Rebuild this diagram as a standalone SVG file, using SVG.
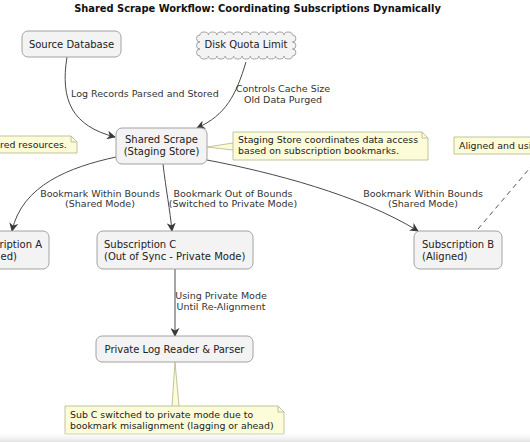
<svg xmlns="http://www.w3.org/2000/svg" width="530" height="442" viewBox="0 0 530 442">
<style>
text{font-family:"DejaVu Sans","Liberation Sans",sans-serif;fill:#222;font-size:10px}
.title{font-weight:bold;font-size:9.9px;fill:#111}
.node{fill:#F3F3F3;stroke:#A2A2A2;stroke-width:1}
.note{fill:#FCFCD8;stroke:#B4B48A;stroke-width:0.8}
.fold{fill:none;stroke:#B4B48A;stroke-width:0.8}
.edge{fill:none;stroke:#4A4A4A;stroke-width:1}
.dash{fill:none;stroke:#555;stroke-width:1;stroke-dasharray:5,4}
.lbl{font-size:9.5px;fill:#333}
.nt{font-size:9.4px;fill:#222}
</style>
<defs>
<marker id="arr" viewBox="0 0 10 10" refX="9" refY="5" markerWidth="9" markerHeight="9" orient="auto" markerUnits="userSpaceOnUse">
<path d="M0,0 L10,5 L0,10 L3,5 Z" fill="#3A3A3A"/>
</marker>
<linearGradient id="shade" x1="0" y1="0" x2="0" y2="1">
<stop offset="0" stop-color="#FFFFFF" stop-opacity="0"/>
<stop offset="1" stop-color="#E2E2E2" stop-opacity="1"/>
</linearGradient>
</defs>
<rect width="530" height="442" fill="#FFFFFF"/>
<text class="title" x="257.5" y="12" text-anchor="middle">Shared Scrape Workflow: Coordinating Subscriptions Dynamically</text>

<g id="connectors">
<path class="edge" d="M67,57 C60,100 72,126 115,137" marker-end="url(#arr)"/>
<path class="edge" d="M246,62 C236,95 226,115 197,128" marker-end="url(#arr)"/>
<path class="edge" d="M116,157 C70,167 22,185 12,231" marker-end="url(#arr)"/>
<path class="edge" d="M163,164 C166,190 170,210 172,231" marker-end="url(#arr)"/>
<path class="edge" d="M207,160 C270,172 360,195 418,231" marker-end="url(#arr)"/>
<path class="edge" d="M175,269 L175,336" marker-end="url(#arr)"/>
<path class="dash" d="M478,229 L535,162"/>
<text class="lbl" x="71" y="97">Log Records Parsed and Stored</text>
<text class="lbl" x="283" y="92" text-anchor="middle">Controls Cache Size</text>
<text class="lbl" x="283" y="103" text-anchor="middle">Old Data Purged</text>
<text class="lbl" x="100" y="197" text-anchor="middle">Bookmark Within Bounds</text>
<text class="lbl" x="100" y="207" text-anchor="middle">(Shared Mode)</text>
<text class="lbl" x="233" y="197" text-anchor="middle">Bookmark Out of Bounds</text>
<text class="lbl" x="233" y="207" text-anchor="middle">(Switched to Private Mode)</text>
<text class="lbl" x="423" y="197" text-anchor="middle">Bookmark Within Bounds</text>
<text class="lbl" x="423" y="207" text-anchor="middle">(Shared Mode)</text>
<text class="lbl" x="221" y="299" text-anchor="middle">Using Private Mode</text>
<text class="lbl" x="221" y="310" text-anchor="middle">Until Re-Alignment</text>
</g>

<g id="source-database">
<rect class="node" x="22" y="31" width="99" height="26" rx="6"/>
<text x="71.5" y="47.5" text-anchor="middle">Source Database</text>
</g>

<g id="disk-quota-limit">
<path class="node" d="M200,35 a4.2,3 0 0 1 8.4,0 a4.2,3 0 0 1 8.4,0 a4.2,3 0 0 1 8.4,0 a4.2,3 0 0 1 8.4,0 a4.2,3 0 0 1 8.4,0 a4.2,3 0 0 1 8.4,0 a4.2,3 0 0 1 8.4,0 a4.2,3 0 0 1 8.4,0 a4.2,3 0 0 1 8.4,0 a4.2,3 0 0 1 8.4,0 a4.2,3 0 0 1 8.4,0 a3.5,3.5 0 0 1 0,7 a3.5,3.5 0 0 1 0,7 a3.5,3.5 0 0 1 0,7 a4.2,3 0 0 1 -8.4,0 a4.2,3 0 0 1 -8.4,0 a4.2,3 0 0 1 -8.4,0 a4.2,3 0 0 1 -8.4,0 a4.2,3 0 0 1 -8.4,0 a4.2,3 0 0 1 -8.4,0 a4.2,3 0 0 1 -8.4,0 a4.2,3 0 0 1 -8.4,0 a4.2,3 0 0 1 -8.4,0 a4.2,3 0 0 1 -8.4,0 a4.2,3 0 0 1 -8.4,0 a3.5,3.5 0 0 1 0,-7 a3.5,3.5 0 0 1 0,-7 a3.5,3.5 0 0 1 0,-7 Z"/>
<text x="246" y="47.5" text-anchor="middle">Disk Quota Limit</text>
</g>

<g id="shared-scrape">
<rect class="node" x="116" y="128" width="91" height="36" rx="6"/>
<text x="161.5" y="143" text-anchor="middle">Shared Scrape</text>
<text x="161.5" y="155" text-anchor="middle">(Staging Store)</text>
</g>

<g id="note-staging">
<polygon class="note" points="207,147 233,143 233,150" style="stroke:none"/>
<path class="fold" d="M207,147 L233,143 M207,147 L233,150"/>
<path class="note" d="M233,132 L422,132 L428,138 L428,160 L233,160 Z"/>
<path class="fold" d="M422,132 L422,138 L428,138"/>
<text class="nt" x="238" y="143">Staging Store coordinates data access</text>
<text class="nt" x="238" y="154">based on subscription bookmarks.</text>
</g>

<g id="note-shared-resources">
<path class="note" d="M-10,136 L71,136 L77,142 L77,153 L-10,153 Z"/>
<path class="fold" d="M71,136 L71,142 L77,142"/>
<text class="nt" x="0" y="148">red resources.</text>
</g>

<g id="note-aligned">
<path class="note" d="M454,137 L540,137 L540,154 L454,154 Z"/>
<text class="nt" x="459" y="148.5">Aligned and usi</text>
</g>

<g id="subscription-a">
<rect class="node" x="-60" y="231" width="109" height="38" rx="6"/>
<text x="42" y="248" text-anchor="end">ription A</text>
<text x="17" y="259.5" text-anchor="end">ed)</text>
</g>

<g id="subscription-c">
<rect class="node" x="97" y="231" width="156" height="38" rx="6"/>
<text x="104" y="248">Subscription C</text>
<text x="104" y="259.5">(Out of Sync - Private Mode)</text>
</g>

<g id="subscription-b">
<rect class="node" x="414" y="231" width="88" height="38" rx="6"/>
<text x="422" y="248">Subscription B</text>
<text x="422" y="259.5">(Aligned)</text>
</g>

<g id="private-log-reader">
<rect class="node" x="96" y="336" width="157" height="26" rx="6"/>
<text x="174.5" y="352.5" text-anchor="middle">Private Log Reader &amp; Parser</text>
</g>

<g id="note-sub-c">
<polygon class="note" points="175,362 172,406.5 179,406.5" style="stroke:none"/>
<path class="fold" d="M175,362 L172,406 M175,362 L179,406"/>
<path class="note" d="M65,406 L278,406 L284,412 L284,434 L65,434 Z"/>
<path class="fold" d="M278,406 L278,412 L284,412"/>
<text class="nt" x="70" y="418">Sub C switched to private mode due to</text>
<text class="nt" x="70" y="429">bookmark misalignment (lagging or ahead)</text>
</g>
<rect x="0" y="431" width="530" height="11" fill="url(#shade)"/>
</svg>
